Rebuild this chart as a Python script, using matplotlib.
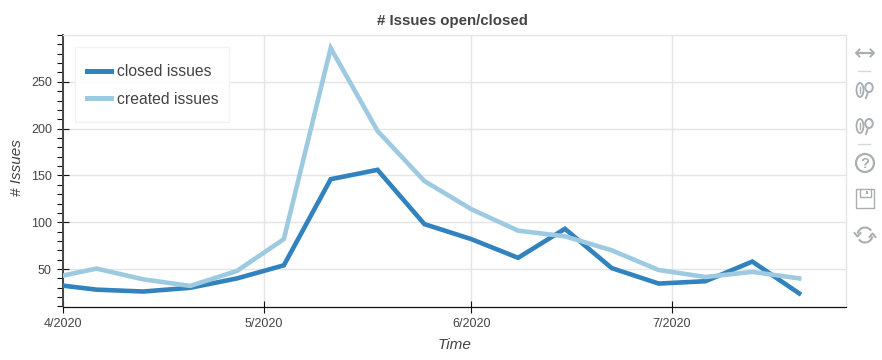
import matplotlib
matplotlib.use("Agg")
from matplotlib import pyplot as plt
from matplotlib.patches import Rectangle, Circle, Ellipse, Arc
import matplotlib.dates as mdates
from matplotlib.ticker import MultipleLocator, FuncFormatter
import pandas as pd

plt.rcParams['font.family'] = ['Liberation Sans', 'DejaVu Sans']

# weekly counts, first point sits just left of the visible range
weeks = pd.date_range("2020-03-30", periods=17, freq="7D")
closed_issues = [34, 28, 26, 30, 40, 54, 146, 156, 98, 82, 62, 93, 51, 34.5, 37, 58, 24]
created_issues = [40, 50.5, 39, 32, 48, 82, 286, 197.5, 144, 114, 91, 85, 70, 49, 41.5, 47, 40]
x_start = pd.Timestamp("2020-04-01")
x_end = pd.Timestamp("2020-07-27")
y_range = (10, 300)
y_ticks = [50, 100, 150, 200, 250]

W, H = 882, 360
fig = plt.figure(figsize=(W / 100, H / 100), dpi=100)
ax = fig.add_axes([63 / W, 1 - 306.5 / H, (846 - 63) / W, (306.5 - 35) / H])

ax.plot(weeks, closed_issues, color="#3182bd", lw=3.3, solid_joinstyle="miter", label="closed issues", zorder=3)
ax.plot(weeks, created_issues, color="#9ecae1", lw=3.3, solid_joinstyle="miter", label="created issues", zorder=4)

ax.set_xlim(x_start, x_end)
ax.set_ylim(*y_range)
ax.set_yticks(y_ticks)
ax.yaxis.set_minor_locator(MultipleLocator(10))
ax.xaxis.set_major_locator(mdates.MonthLocator())
ax.xaxis.set_major_formatter(FuncFormatter(lambda v, p: "%d/%d" % (mdates.num2date(v).month, mdates.num2date(v).year)))

ax.grid(True, which="major", color="#e5e5e5", lw=1)
ax.set_axisbelow(True)
for s in ["top", "right"]:
    ax.spines[s].set_color("#e5e5e5")
    ax.spines[s].set_linewidth(1)
ax.spines["left"].set_color("#444444")
ax.spines["left"].set_linewidth(1.4)
ax.spines["bottom"].set_color("#111111")
ax.spines["bottom"].set_linewidth(0.9)

ax.tick_params(axis="y", which="major", direction="inout", length=9, width=0.8, color="#111111", labelsize=9, labelcolor="#444444", pad=3.5)
ax.tick_params(axis="y", which="minor", direction="out", length=4, width=0.8, color="#111111")
ax.tick_params(axis="x", which="major", direction="inout", length=9, width=0.8, color="#111111", labelsize=9, labelcolor="#444444", pad=3.5)

ax.set_title("# Issues open/closed", fontsize=10.8, fontweight="bold", color="#444444", pad=7, x=0.4975)
ax.set_xlabel("Time", fontsize=11, style="italic", color="#444444", labelpad=6)
ax.set_ylabel("# Issues", fontsize=11, style="italic", color="#444444", labelpad=5, y=0.51)

# legend frame drawn apart so box size and row position stay independent
ax.add_patch(Rectangle(((75 - 63) / 783, (306.5 - 122) / 271.5), 154 / 783, 75 / 271.5, transform=ax.transAxes,
                       fc="white", ec="#f2f2f2", lw=1, alpha=0.95, zorder=4.5))
leg = ax.legend(loc="upper left", bbox_to_anchor=((87 - 63) / 783, (306.5 - 64) / 271.5), borderaxespad=0,
                fontsize=11.3, handlelength=1.53, handletextpad=0.36, labelspacing=0.8, borderpad=0,
                frameon=False, labelcolor="#444444")
for line in leg.get_lines():
    line.set_linewidth(3.6)

# bokeh toolbar drawn on an overlay in pixel coordinates
ov = fig.add_axes([0, 0, 1, 1])
ov.set_xlim(0, W)
ov.set_ylim(H, 0)
ov.axis("off")
grey = "#a9aeb2"

# pan arrow
ov.plot([857, 873], [53, 53], color=grey, lw=1.6)
ov.plot([859.5, 856, 859.5], [49.5, 53, 56.5], color=grey, lw=1.4)
ov.plot([870.5, 874, 870.5], [49.5, 53, 56.5], color=grey, lw=1.4)

# separators
for sy in [71, 144]:
    ov.plot([858, 870], [sy, sy], color="#d4d7d9", lw=1)


def zoom_icon(cy):
    ov.add_patch(Ellipse((860, cy), 7, 14, fill=False, ec=grey, lw=1.3))
    ov.plot([860, 860], [cy - 3, cy + 3], color=grey, lw=1)
    ov.add_patch(Ellipse((869, cy - 2.5), 7.5, 9, fill=False, ec=grey, lw=1.4))
    ov.plot([868, 866], [cy + 2, cy + 8], color=grey, lw=1.4)


zoom_icon(90)
zoom_icon(126)

# help
ov.add_patch(Circle((865, 163), 9, fill=False, ec=grey, lw=1.6))
ov.text(865, 163.5, "?", fontsize=10.5, fontweight="bold", color=grey, ha="center", va="center")

# save
ov.add_patch(Rectangle((856, 189), 18, 19, fill=False, ec=grey, lw=1))
ov.plot([860, 860, 871, 871], [189, 197, 197, 189], color=grey, lw=1)
ov.add_patch(Rectangle((866, 191), 2, 3, color=grey, lw=0))

# reset
ov.add_patch(Arc((865, 235), 15, 15, theta1=190, theta2=325, ec=grey, lw=1.5))
ov.add_patch(Arc((865, 235), 15, 15, theta1=10, theta2=145, ec=grey, lw=1.5))
ov.plot([854.5, 857.5, 860.5], [233, 236.5, 233], color=grey, lw=1.4)
ov.plot([869.5, 872.5, 875.5], [237, 233.5, 237], color=grey, lw=1.4)

fig.savefig("out.png", dpi=100)
